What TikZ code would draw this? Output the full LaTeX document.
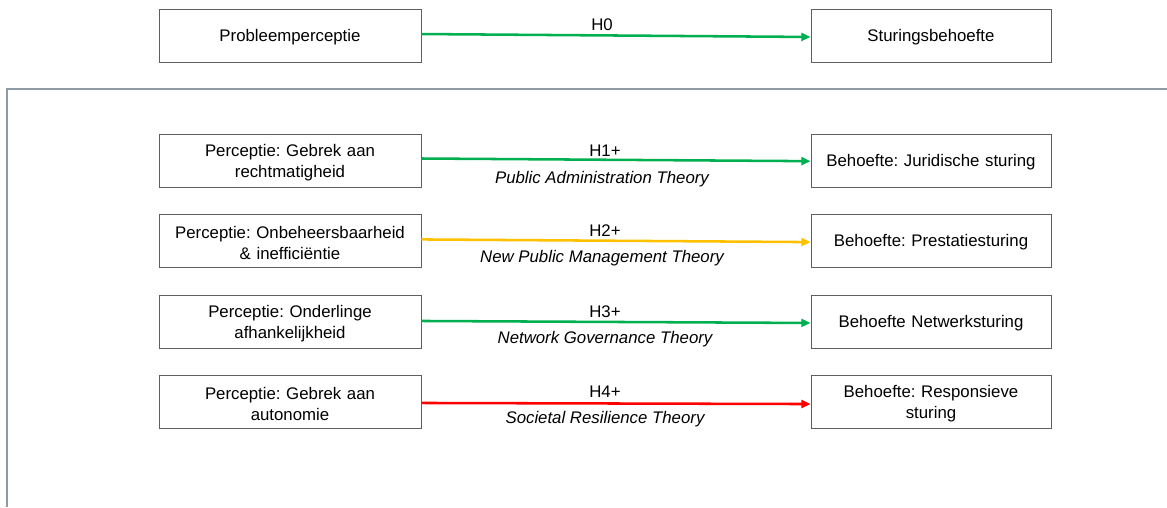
\documentclass[tikz,border=0pt]{standalone}
\usepackage{fontspec}
\setmainfont{Liberation Sans}
\usetikzlibrary{arrows.meta}
\definecolor{okgreen}{HTML}{00B050}
\definecolor{warnyellow}{HTML}{FFC000}
\definecolor{alertred}{HTML}{FF0000}
\definecolor{framegray}{HTML}{8E9AA4}
\definecolor{boxline}{HTML}{5F5F5F}
\frenchspacing
\begin{document}
\begin{tikzpicture}[x=0.75pt,y=-0.75pt,
  txt/.style={font=\fontsize{12.6}{15.75}\selectfont},
  box/.style={txt,draw=boxline,line width=0.6pt,fill=white,inner sep=2pt,
    minimum height=39.75pt,align=center,
    execute at begin node={\noindent\rule{0pt}{12.3pt}}},
  lbox/.style={box,minimum width=196.5pt,text width=190pt},
  rbox/.style={box,minimum width=180pt,text width=174pt},
  link/.style={line width=1.9pt,-{Triangle[length=7pt,width=6pt]}},
  hyp/.style={txt,inner sep=0pt},
  theory/.style={txt,inner sep=0pt,font=\fontsize{12.6}{15.75}\selectfont\itshape}]
\useasboundingbox (0,0) rectangle (1167,507);

% frame around the hypotheses
\draw[framegray,line width=1.5pt] (7,507) -- (7,89) -- (1167,89);

% general hypothesis
\node[lbox] (p0) at (290,35.5) {Probleemperceptie};
\node[rbox] (b0) at (931,35.5) {Sturingsbehoefte};
\draw[link,okgreen] ([yshift=1.1pt]p0.east) -- ([yshift=-1.1pt]b0.west);
\node[hyp] (h0) at (602,24.5) {H0};

% specific hypotheses
\node[lbox] (p1) at (290,160.5) {Perceptie: Gebrek aan\\rechtmatigheid};
\node[rbox] (b1) at (931,160.5) {Behoefte: Juridische sturing};
\draw[link,okgreen] ([yshift=1.5pt]p1.east) -- ([yshift=-0.5pt]b1.west);
\node[hyp] (h1) at (605,150.5) {H1+};
\node[theory] (t1) at (602,179.5) {Public Administration Theory};

\node[lbox] (p2) at (290,240.5) {Perceptie: Onbeheersbaarheid\\\& inefficiëntie};
\node[rbox] (b2) at (931,240.5) {Behoefte: Prestatiesturing};
\draw[link,warnyellow] ([yshift=0.8pt]p2.east) -- ([yshift=-1.2pt]b2.west);
\node[hyp] (h2) at (605,230.5) {H2+};
\node[theory] (t2) at (602,258.5) {New Public Management Theory};

\node[lbox] (p3) at (290,321.5) {Perceptie: Onderlinge\\afhankelijkheid};
\node[rbox] (b3) at (931,321.5) {Behoefte Netwerksturing};
\draw[link,okgreen] ([yshift=0.4pt]p3.east) -- ([yshift=-1.1pt]b3.west);
\node[hyp] (h3) at (605,311.5) {H3+};
\node[theory] (t3) at (605,339.5) {Network Governance Theory};

\node[lbox] (p4) at (290,401.5) {Perceptie: Gebrek aan\\autonomie};
\node[rbox] (b4) at (931,401.5) {Behoefte: Responsieve\\sturing};
\draw[link,alertred] ([yshift=-1.1pt]p4.east) -- ([yshift=-1.9pt]b4.west);
\node[hyp] (h4) at (605,391.5) {H4+};
\node[theory] (t4) at (605,419.5) {Societal Resilience Theory};
\end{tikzpicture}
\end{document}
